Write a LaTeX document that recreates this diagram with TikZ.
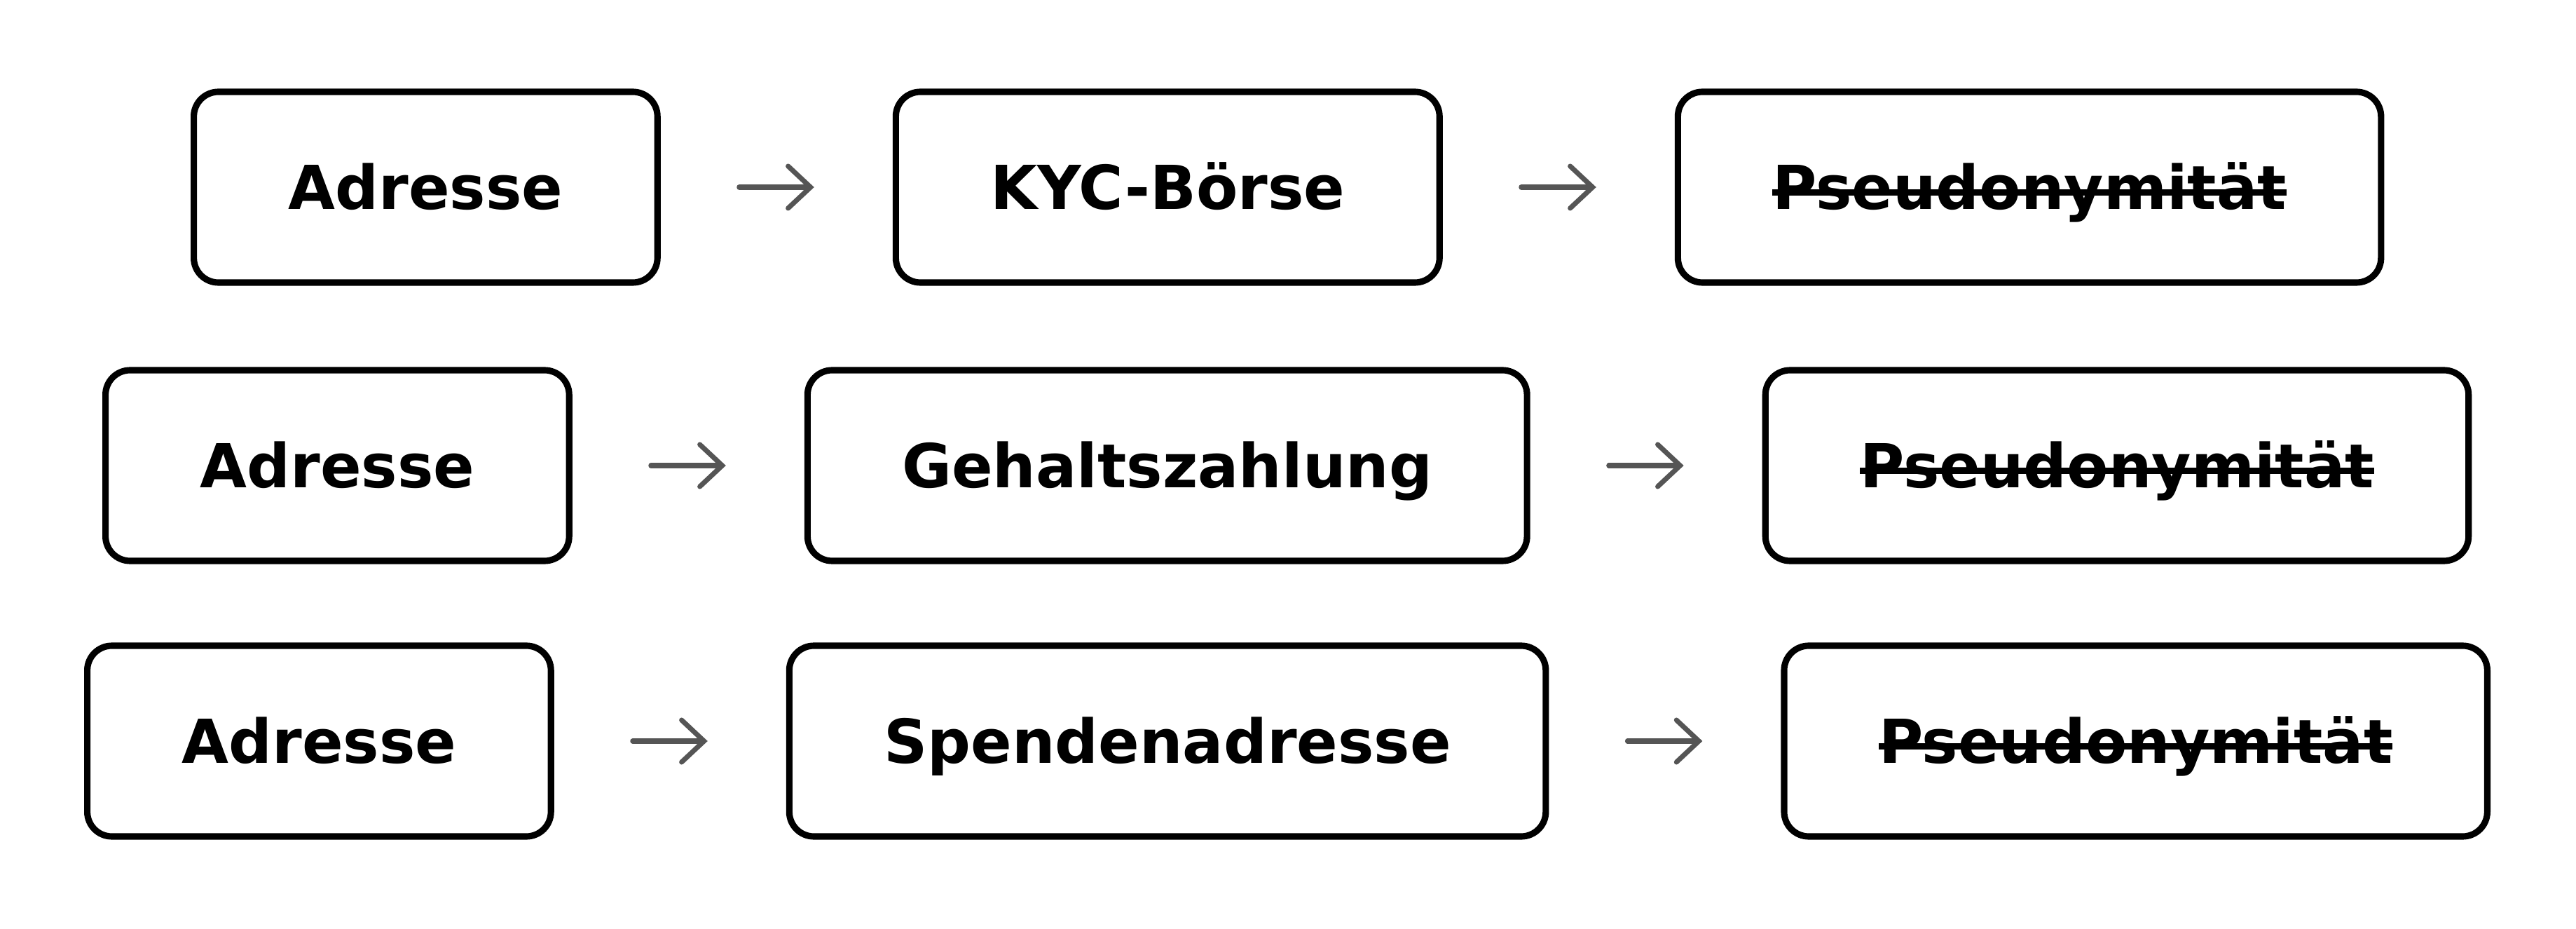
\documentclass[tikz,border=0pt]{standalone}
\usepackage{fontspec}
\setmainfont{DejaVu Sans}
\usetikzlibrary{arrows.meta, positioning}
\definecolor{pfGray}{HTML}{555555}
\newcommand{\pfstrike}[1]{\setbox0\hbox{#1}%
  \rlap{\raisebox{\dimexpr0.28em-1.3pt\relax}{\rule{\wd0}{2.6pt}}}\box0}
\tikzset{
  pfbox/.style={rectangle, rounded corners=10pt, draw=black, line width=2.6pt,
                fill=white, font=\fontsize{24.6}{29}\selectfont\bfseries,
                inner xsep=1.35cm, minimum height=2.72cm,
                text height=24pt, text depth=6.1pt},
  pfarrow/.style={-{Straight Barb[length=3.2mm, width=6mm, line cap=round]},
                  line width=2pt, line cap=round, color=pfGray,
                  shorten <=1.12cm, shorten >=1.12cm},
}

\begin{document}
\begin{tikzpicture}[node distance=3.31cm]
  \useasboundingbox[fill=white] (0,0) rectangle (36.76,13.24);
  % KYC
  \node[pfbox, anchor=west] (adr1) at (2.72,10.57) {Adresse};
  \node[pfbox, right=of adr1] (kyc) {KYC-Börse};
  \node[pfbox, right=of kyc] (pseudo1) {\pfstrike{Pseudonymität}};
  % Gehalt
  \node[pfbox, anchor=west] (adr2) at (1.46,6.60) {Adresse};
  \node[pfbox, right=of adr2] (gehalt) {Gehaltszahlung};
  \node[pfbox, right=of gehalt] (pseudo2) {\pfstrike{Pseudonymität}};
  % Spende
  \node[pfbox, anchor=west] (adr3) at (1.20,2.67) {Adresse};
  \node[pfbox, right=of adr3] (spende) {Spendenadresse};
  \node[pfbox, right=of spende] (pseudo3) {\pfstrike{Pseudonymität}};
  \draw[pfarrow] (adr1) -- (kyc);
  \draw[pfarrow] (kyc) -- (pseudo1);
  \draw[pfarrow] (adr2) -- (gehalt);
  \draw[pfarrow] (gehalt) -- (pseudo2);
  \draw[pfarrow] (adr3) -- (spende);
  \draw[pfarrow] (spende) -- (pseudo3);
\end{tikzpicture}
\end{document}
